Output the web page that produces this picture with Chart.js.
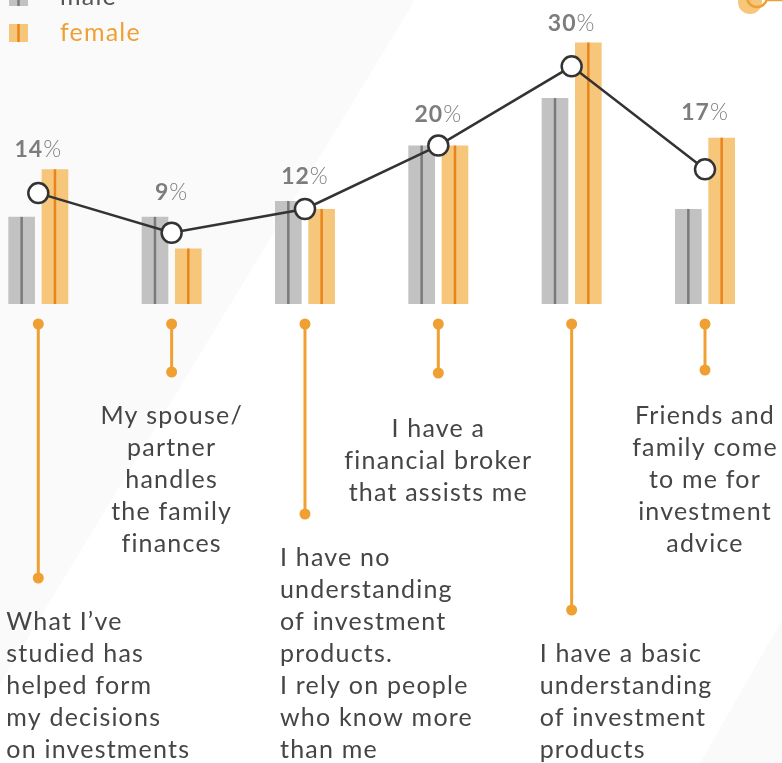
<!DOCTYPE html>
<html>
<head>
<meta charset="utf-8">
<script src="https://cdn.jsdelivr.net/npm/chart.js@4/dist/chart.umd.min.js"></script>
<style>
    html, body { margin: 0; padding: 0; background: #ffffff; overflow: hidden; }
    #wrap { position: relative; width: 782px; height: 763px; }
</style>
</head>
<body>
<div id="wrap"><canvas id="chart" width="782" height="763"></canvas></div>
<script>
// Survey answers (one per group)
const categories = [
    ["What I\u2019ve", "studied has", "helped form", "my decisions", "on investments"],
    ["My spouse/", "partner", "handles", "the family", "finances"],
    ["I have no", "understanding", "of investment", "products.", "I rely on people", "who know more", "than me"],
    ["I have a", "financial broker", "that assists me"],
    ["I have a basic", "understanding", "of investment", "products"],
    ["Friends and", "family come", "to me for", "investment", "advice"]
];
const seriesNames = ["male", "female"];
const maleValues = [11, 11, 13, 20, 26, 12];
const femaleValues = [17, 7, 12, 20, 33, 21];
const totalValues = [14, 9, 12, 20, 30, 17];

const FONT = "Lato, 'Open Sans', sans-serif";
const ORANGE = "#f0a032";

// Where each answer text sits relative to its group (layout only)
const callouts = [
    { leaderEnd: 578, align: "left", dx: -32, top: 622, pctGap: 44 },
    { leaderEnd: 372, align: "center", dx: 0, top: 416, pctGap: 40 },
    { leaderEnd: 514, align: "left", dx: -25, top: 558, pctGap: 32 },
    { leaderEnd: 373, align: "center", dx: 0, top: 429, pctGap: 31 },
    { leaderEnd: 610, align: "left", dx: -32, top: 654, pctGap: 43 },
    { leaderEnd: 370, align: "center", dx: 0, top: 416, pctGap: 57 }
];

// Faint background shading + decoration
const backdrop = {
    id: "backdrop",
    beforeDraw(chart) {
        const ctx = chart.ctx;
        ctx.save();
        ctx.fillStyle = "#fafafa";
        ctx.beginPath();
        ctx.moveTo(0, 0);
        ctx.lineTo(415, 0);
        ctx.lineTo(415 - 0.607 * 700, 700);
        ctx.lineTo(0, 700);
        ctx.closePath();
        ctx.fill();
        ctx.beginPath();
        ctx.moveTo(782, 620);
        ctx.lineTo(782, 763);
        ctx.lineTo(700, 763);
        ctx.closePath();
        ctx.fill();
        // little orange ornament, top right
        ctx.fillStyle = "#f6c67a";
        ctx.beginPath();
        ctx.arc(750, 2, 12, 0, Math.PI * 2);
        ctx.fill();
        ctx.strokeStyle = ORANGE;
        ctx.lineWidth = 2.5;
        ctx.beginPath();
        ctx.arc(757, -3, 10, 0, Math.PI * 2);
        ctx.stroke();
        ctx.beginPath();
        ctx.moveTo(767, 0);
        ctx.lineTo(782, 0);
        ctx.stroke();
        ctx.restore();
    }
};

// Thin darker stripe down the middle of every bar
const barStripes = {
    id: "barStripes",
    afterDatasetDraw(chart, args) {
        const ds = chart.data.datasets[args.index];
        if (ds.type === "line") return;
        const ctx = chart.ctx;
        ctx.save();
        ctx.strokeStyle = ds.stripeColor;
        ctx.lineWidth = 2.5;
        args.meta.data.forEach(bar => {
            ctx.beginPath();
            ctx.moveTo(bar.x, bar.y);
            ctx.lineTo(bar.x, bar.base);
            ctx.stroke();
        });
        ctx.restore();
    }
};

// Percent labels, leaders, answer texts, legend
const annotations = {
    id: "annotations",
    afterDraw(chart) {
        const ctx = chart.ctx;
        const xs = chart.scales.x;
        const ys = chart.scales.y;
        const base = ys.getPixelForValue(0);
        ctx.save();

        totalValues.forEach((v, i) => {
            const x = xs.getPixelForValue(i);
            const c = callouts[i];
            const y = ys.getPixelForValue(v) - c.pctGap;
            ctx.textBaseline = "middle";
            ctx.fillStyle = "#7d7d7d";
            const num = String(v);
            ctx.letterSpacing = "1px";
            ctx.font = "bold 23px " + FONT;
            const w1 = ctx.measureText(num).width;
            ctx.font = "300 23px " + FONT;
            const w2 = ctx.measureText("%").width;
            const left = x - (w1 + w2) / 2;
            ctx.textAlign = "left";
            ctx.font = "bold 23px " + FONT;
            ctx.fillText(num, left, y);
            ctx.font = "300 23px " + FONT;
            ctx.fillText("%", left + w1, y);

            // leader
            const top = base + 20;
            ctx.strokeStyle = ORANGE;
            ctx.fillStyle = ORANGE;
            ctx.lineWidth = 3;
            ctx.beginPath();
            ctx.moveTo(x, top);
            ctx.lineTo(x, c.leaderEnd);
            ctx.stroke();
            [top, c.leaderEnd].forEach(py => {
                ctx.beginPath();
                ctx.arc(x, py, 5.5, 0, Math.PI * 2);
                ctx.fill();
            });

            // answer text
            ctx.fillStyle = "#454545";
            ctx.font = "25px " + FONT;
            ctx.letterSpacing = "1.2px";
            ctx.textAlign = c.align;
            categories[i].forEach((line, k) => {
                ctx.fillText(line, x + c.dx, c.top + k * 32);
            });
            ctx.letterSpacing = "0px";
        });

        // legend
        const items = [
            { name: seriesNames[0], fill: "#c2c2c2", stripe: "#7a7a7a", text: "#555555", y: -3 },
            { name: seriesNames[1], fill: "#f6c67a", stripe: "#e8841c", text: ORANGE, y: 33 }
        ];
        items.forEach(it => {
            ctx.fillStyle = it.fill;
            ctx.fillRect(9, it.y - 9, 19, 18);
            ctx.strokeStyle = it.stripe;
            ctx.lineWidth = 2.5;
            ctx.beginPath();
            ctx.moveTo(18.5, it.y - 9);
            ctx.lineTo(18.5, it.y + 9);
            ctx.stroke();
            ctx.fillStyle = it.text;
            ctx.font = "25px " + FONT;
            ctx.letterSpacing = "1.2px";
            ctx.textAlign = "left";
            ctx.textBaseline = "middle";
            ctx.fillText(it.name, 60, it.y);
            ctx.letterSpacing = "0px";
        });
        ctx.restore();
    }
};

new Chart(document.getElementById("chart"), {
    type: "bar",
    data: {
        labels: categories.map((c, i) => String(i)),
        datasets: [
            {
                type: "line",
                label: "total",
                data: totalValues,
                order: 0,
                clip: false,
                borderColor: "#333333",
                borderWidth: 2.5,
                pointRadius: 10,
                pointBackgroundColor: "#ffffff",
                pointBorderColor: "#333333",
                pointBorderWidth: 2.5,
                tension: 0
            },
            {
                label: seriesNames[0],
                data: maleValues,
                order: 1,
                clip: false,
                backgroundColor: "#c2c2c2",
                stripeColor: "#7a7a7a"
            },
            {
                label: seriesNames[1],
                data: femaleValues,
                order: 1,
                clip: false,
                backgroundColor: "#f6c67a",
                stripeColor: "#e8841c"
            }
        ]
    },
    options: {
        responsive: false,
        animation: false,
        devicePixelRatio: 1,
        categoryPercentage: 0.5,
        barPercentage: 0.8,
        layout: { autoPadding: false, padding: { left: 38.3, right: 77, top: 3, bottom: 459 } },
        plugins: {
            legend: { display: false },
            tooltip: { enabled: false }
        },
        scales: {
            x: { display: false, offset: false, grid: { offset: false } },
            y: { display: false, min: 0, max: 38 }
        }
    },
    plugins: [backdrop, barStripes, annotations]
});
</script>
</body>
</html>
